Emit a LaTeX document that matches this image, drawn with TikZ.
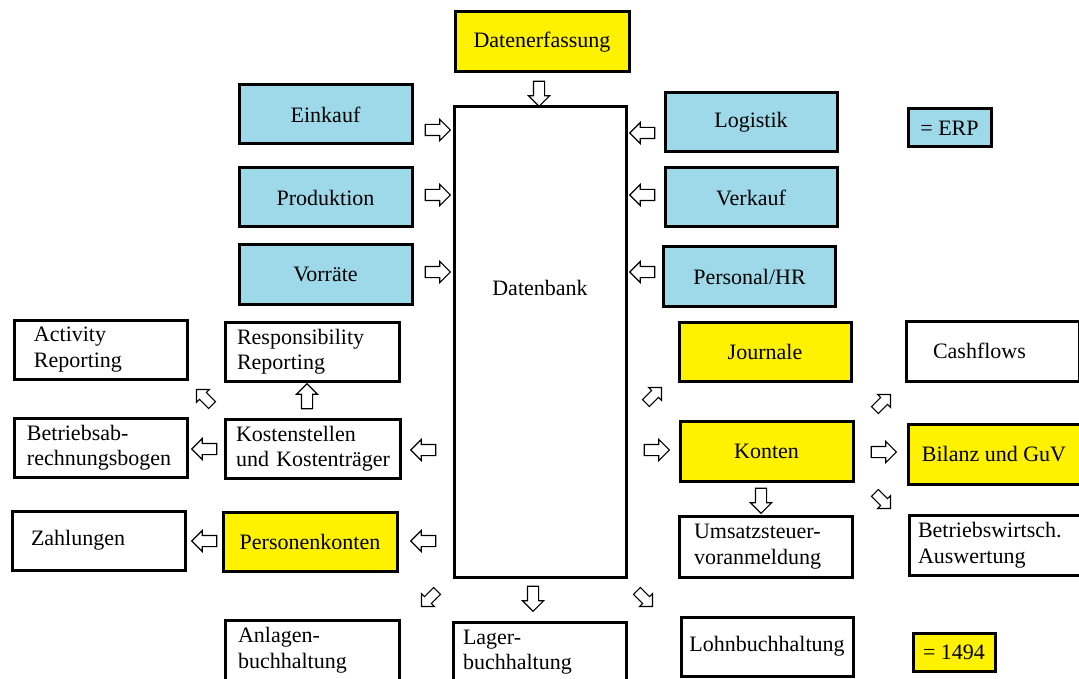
\documentclass[tikz,border=0pt]{standalone}
\usepackage{fontspec}
\setmainfont{Liberation Serif}
\usetikzlibrary{shapes.arrows,calc}
\definecolor{erpblau}{HTML}{9DD9E8}
\definecolor{fibugelb}{HTML}{FFF200}
\tikzset{
  txt/.style={font=\fontsize{22pt}{25.5pt}\selectfont},
  box/.style={txt, draw, line width=3pt, minimum width=173pt, minimum height=59pt, inner sep=0pt},
  erp/.style={box, fill=erpblau},
  fibu/.style={box, fill=fibugelb},
  lbox/.style={box, align=left},
  pfeil/.style={single arrow, draw, fill=white, line width=1.1pt, inner xsep=0pt, inner ysep=5pt,
    minimum height=25pt, single arrow head extend=5pt},
  kpfeil/.style={pfeil, minimum height=22pt, inner ysep=4.3pt, single arrow head extend=4.3pt}
}
\begin{document}
\begin{tikzpicture}[x=1pt,y=-1pt]
\useasboundingbox (0,0) rectangle (1079,679);
\clip (0,0) rectangle (1079,679);
% Datenbank
\node[fibu, minimum width=174pt, minimum height=60pt] (dat) at (542,42) {Datenerfassung};
\node[box, minimum width=172pt, minimum height=470pt] (db) at (540,342) {};
\node[txt] (dbt) at (540,288) {Datenbank};
% ERP
\node[erp] (ein) at (325.5,114.5) {Einkauf};
\node[erp] (pro) at (325.5,197.5) {Produktion};
\node[erp] (vor) at (325.5,274.5) {Vorräte};
\node[erp, minimum width=172pt] (log) at (751,122.5) {Logistik};
\node[erp, minimum width=172pt] (ver) at (751,197.5) {Verkauf};
\node[erp, minimum width=172pt] (per) at (749.5,276.5) {Personal/HR};
\node[erp, minimum width=83pt, minimum height=38pt] (lerp) at (949.5,128) {= ERP};
% linke Seite
\node[lbox, inner xsep=20pt, text width=133pt] (act) at (100.5,349.5) {Activity\\Reporting};
\node[lbox, inner xsep=12pt, text width=150pt] (res) at (312,351.5) {Responsibility\\Reporting};
\node[lbox, inner xsep=13pt, text width=147pt] (bab) at (100.5,447.5) {Betriebsab-\\rechnungsbogen};
\node[lbox, inner xsep=11pt, text width=153pt] (kos) at (312.5,448.5) {Kostenstellen\\\mbox{und Kostenträger}};
\node[lbox, inner xsep=19pt, text width=135pt] (zah) at (98.5,540.5) {Zahlungen};
\node[fibu, minimum width=174pt] (pk) at (310,541.5) {Personenkonten};
\node[lbox, inner xsep=13pt, text width=148pt, minimum height=60pt] (anl) at (312,650) {Anlagen-\\buchhaltung};
\node[lbox, inner xsep=9pt, text width=154pt, minimum height=60pt] (lag) at (540,652) {Lager-\\buchhaltung};
% rechte Seite
\node[fibu, minimum width=172pt] (jou) at (765,351.5) {Journale};
\node[lbox, inner xsep=26pt, text width=120pt, minimum height=60pt] (cas) at (993,351) {Cashflows};
\node[fibu, minimum height=60pt] (kon) at (766.5,451) {Konten};
\node[fibu, minimum width=172pt, minimum height=60pt] (bil) at (994,454) {Bilanz und GuV};
\node[lbox, inner xsep=15pt, text width=143pt, minimum height=61pt] (ust) at (765.5,546.5) {Umsatzsteuer-\\voranmeldung};
\node[lbox, inner xsep=8pt, text width=156pt, minimum height=60pt] (bwa) at (996,545) {Betriebswirtsch.\\Auswertung};
\node[box, minimum width=172pt] (loh) at (767,646.5) {Lohnbuchhaltung};
\node[fibu, minimum width=82pt, minimum height=38pt] (l1494) at (954,652) {= 1494};
% Pfeile
\node[pfeil, rotate=270] (p1) at (539,91) {};
\node[pfeil] (p2) at (435,130) {};
\node[pfeil] (p3) at (435,195) {};
\node[pfeil] (p4) at (435,272) {};
\node[pfeil, rotate=180] (p5) at (645,133) {};
\node[pfeil, rotate=180] (p6) at (645,195) {};
\node[pfeil, rotate=180] (p7) at (645,272) {};
\node[pfeil, rotate=180] (p8) at (426,450) {};
\node[pfeil, rotate=180] (p9) at (426,541) {};
\node[pfeil, rotate=180] (p10) at (207,449) {};
\node[pfeil, rotate=180] (p11) at (207,541) {};
\node[pfeil, rotate=90] (p12) at (307,399) {};
\node[kpfeil, rotate=135] (p13) at (206,399) {};
\node[kpfeil, rotate=45] (p14) at (652,397) {};
\node[pfeil] (p15) at (654,450) {};
\node[kpfeil, rotate=45] (p16) at (881,404) {};
\node[pfeil] (p17) at (881,452) {};
\node[kpfeil, rotate=315] (p18) at (881,499) {};
\node[pfeil, rotate=270] (p19) at (761,498) {};
\node[kpfeil, rotate=225] (p20) at (431,597) {};
\node[pfeil, rotate=270] (p21) at (533,596) {};
\node[kpfeil, rotate=315] (p22) at (643,597) {};
\end{tikzpicture}
\end{document}
